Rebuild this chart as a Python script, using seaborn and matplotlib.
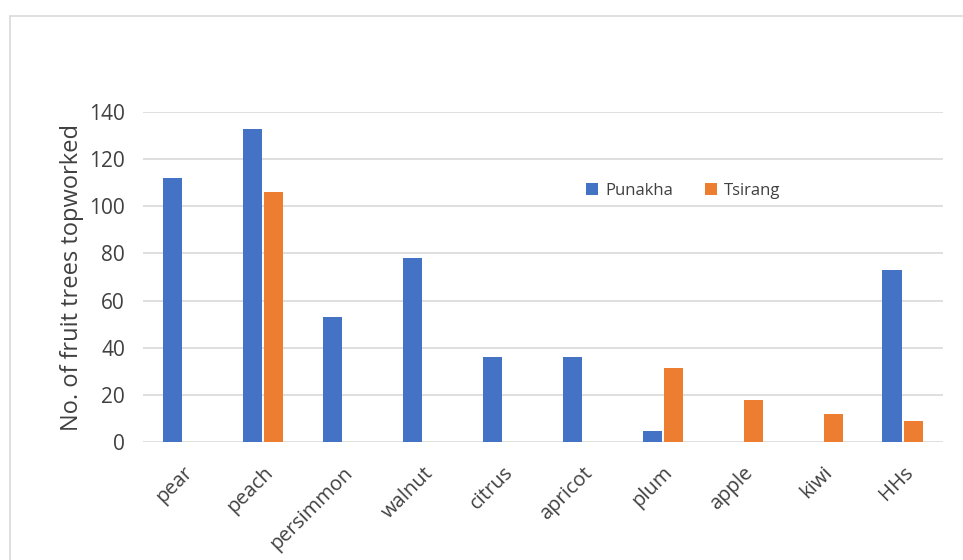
import matplotlib
matplotlib.use("Agg")
import matplotlib.pyplot as plt
from matplotlib.patches import Rectangle
import seaborn as sns
import pandas as pd

categories = ["pear", "peach", "persimmon", "walnut", "citrus",
              "apricot", "plum", "apple", "kiwi", "HHs"]
punakha = [112, 133, 53, 78, 36, 36, 4.5, 0, 0, 73]
tsirang = [0, 106, 0, 0, 0, 0, 31.5, 18, 12, 9]
series_names = ["Punakha", "Tsirang"]
y_ticks = [0, 20, 40, 60, 80, 100, 120, 140]
y_label = "No. of fruit trees topworked"

colors = {"Punakha": "#4472C4", "Tsirang": "#ED7D31"}

df = pd.DataFrame({
    "fruit": categories * 2,
    "region": [series_names[0]] * len(categories) + [series_names[1]] * len(categories),
    "count": punakha + tsirang,
})

sns.set_theme(style="white")
plt.rcParams["font.family"] = ["Open Sans", "DejaVu Sans"]

fig = plt.figure(figsize=(9.63, 5.6), dpi=100)
ax = fig.add_axes([0.1485, 0.2107, 0.8305, 0.5893])

# outer chart frame
fig.patches.append(Rectangle((10 / 963, -0.1), 1.2, 0.1 + (560 - 16) / 560,
                             transform=fig.transFigure, fill=False,
                             edgecolor="#D9D9D9", linewidth=1.2, zorder=0))

sns.barplot(data=df, x="fruit", y="count", hue="region", order=categories,
            hue_order=series_names, palette=colors, width=0.53, gap=0.08,
            linewidth=0, saturation=1, ax=ax, legend=True)

ax.set_ylim(0, 140)
ax.set_xlim(-0.5, len(categories) - 0.5)
ax.set_yticks(y_ticks)
ax.yaxis.grid(True, color="#D9D9D9", linewidth=1.2)
ax.set_axisbelow(True)
for s in ax.spines.values():
    s.set_visible(False)

ax.tick_params(axis="both", length=0, colors="#404040")
ax.tick_params(axis="y", labelsize=15, pad=13)
ax.tick_params(axis="x", labelsize=14.5, pad=15)
for lbl in ax.get_xticklabels():
    lbl.set_rotation(45)
    lbl.set_ha("right")
    lbl.set_rotation_mode("anchor")

ax.set_xlabel("")
ax.set_ylabel(y_label, fontsize=17, color="#404040", labelpad=4)

handles, labels = ax.get_legend_handles_labels()
ax.legend(handles, labels, loc="center left", bbox_to_anchor=(0.535, 0.76),
          ncol=2, frameon=False, fontsize=12, handlelength=0.75,
          handleheight=0.75, handletextpad=0.4, columnspacing=1.9,
          labelcolor="#404040")

fig.savefig("out.png", dpi=100)
